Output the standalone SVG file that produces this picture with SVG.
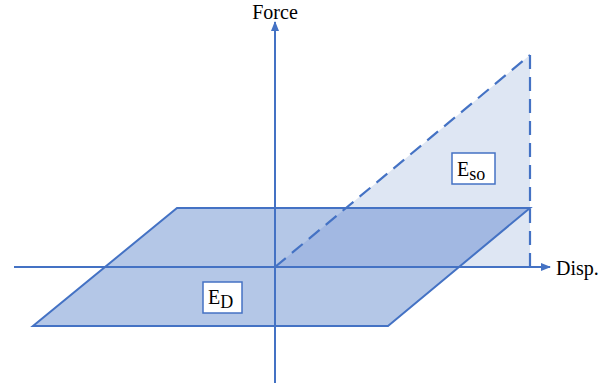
<svg xmlns="http://www.w3.org/2000/svg" width="612" height="388" viewBox="0 0 612 388">
<style>
.ln{stroke:#4472c4;stroke-width:2;fill:none}
.dash{stroke:#4472c4;stroke-width:2.2;fill:none;stroke-dasharray:14 8}
.lbl{font-family:"Liberation Serif","DejaVu Serif",serif;font-size:20px;fill:#000}
.box{fill:#fff;stroke:#4472c4;stroke-width:1.5}
</style>
<defs>
<marker id="ah" markerWidth="10" markerHeight="8" refX="9" refY="4" orient="auto" markerUnits="userSpaceOnUse">
<path d="M0,0 L10,4 L0,8 Z" fill="#4472c4"/>
</marker>
</defs>
<rect width="612" height="388" fill="#fff"/>
<g id="triangle">
<polygon points="275,267 530,55 530,267" fill="#dee6f3"/>
</g>
<g id="parallelogram">
<polygon points="177,208 530,208 388,326 33,326" fill="#b4c7e7"/>
<polygon points="275,267 346,208 530,208 459,267" fill="#a2b8e2"/>
<polygon points="177,208 530,208 388,326 33,326" class="ln"/>
</g>
<g id="connectors">
<line x1="275" y1="267" x2="530" y2="55" class="dash"/>
<line x1="530" y1="55" x2="530" y2="267" class="dash"/>
<line x1="14" y1="267" x2="550" y2="267" class="ln" marker-end="url(#ah)"/>
<line x1="275" y1="383" x2="275" y2="22" class="ln" marker-end="url(#ah)"/>
</g>
<g id="force">
<text x="275" y="19" class="lbl" text-anchor="middle">Force</text>
</g>
<g id="disp">
<text x="556" y="275" class="lbl">Disp.</text>
</g>
<g id="eso">
<rect x="452" y="153" width="43" height="31" class="box"/>
<text x="457" y="176" class="lbl">E<tspan font-size="18" dy="4">so</tspan></text>
</g>
<g id="ed">
<rect x="203" y="282" width="39" height="31" class="box"/>
<text x="208" y="304" class="lbl">E<tspan font-size="18" dy="4">D</tspan></text>
</g>
</svg>
